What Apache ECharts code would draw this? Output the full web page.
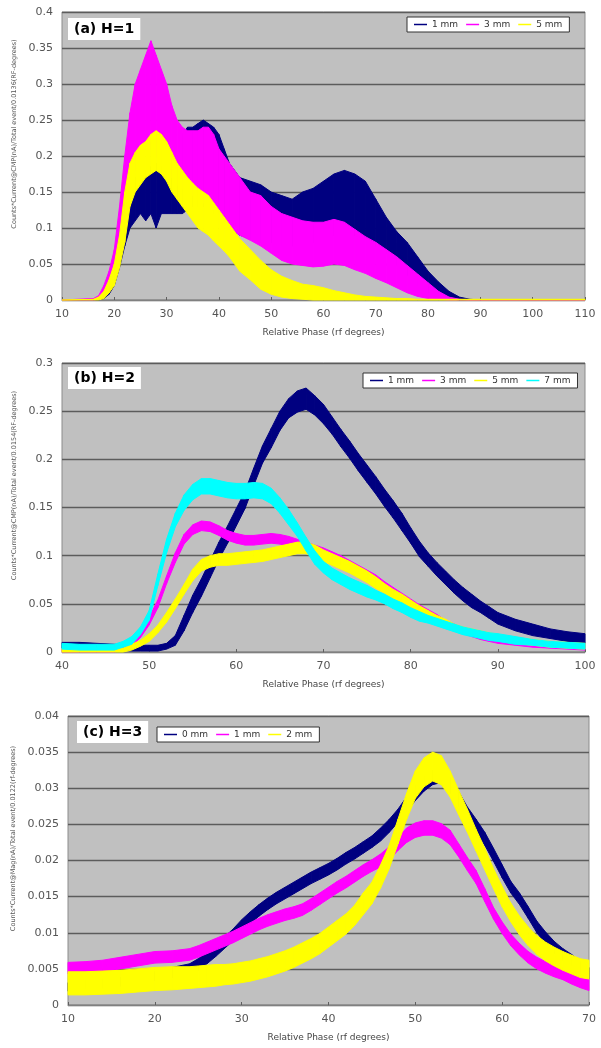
<!DOCTYPE html>
<html><head><meta charset="utf-8">
<script src="https://cdn.jsdelivr.net/npm/echarts@6/dist/echarts.min.js"></script>
<style>html,body{margin:0;padding:0;background:#fff}#c{width:601px;height:1048px}</style>
</head><body><div id="c"></div>
<script>
// ---------- Panel (a) H=1 : band edges (low / high) ----------
const aPhase = [10,16,17,18,19,20,21,22,23,24,25,26,27,28,29,30,31,32,33,34,35,36,37,38,39,40,41,42,44,46,48,50,52,54,56,58,60,62,64,66,68,70,72,74,76,78,80,82,84,86,88,90,110];
const a1Lo = [0,0,0,0.002,0.008,0.02,0.045,0.075,0.1,0.11,0.12,0.11,0.12,0.1,0.12,0.12,0.12,0.12,0.12,0.125,0.13,0.13,0.13,0.125,0.12,0.12,0.11,0.1,0.09,0.085,0.08,0.08,0.075,0.075,0.075,0.08,0.085,0.09,0.09,0.09,0.085,0.075,0.065,0.05,0.035,0.02,0.01,0.005,0.002,0,0,0,0];
const a1Hi = [0,0.001,0.002,0.008,0.02,0.04,0.075,0.11,0.155,0.17,0.175,0.18,0.185,0.19,0.185,0.18,0.175,0.19,0.23,0.24,0.24,0.245,0.25,0.245,0.24,0.23,0.21,0.19,0.17,0.165,0.16,0.15,0.145,0.14,0.15,0.155,0.165,0.175,0.18,0.175,0.165,0.14,0.115,0.095,0.08,0.06,0.04,0.025,0.012,0.004,0.001,0,0];
const a3Lo = [0,0,0.001,0.005,0.015,0.03,0.06,0.1,0.15,0.18,0.2,0.21,0.21,0.2,0.19,0.18,0.17,0.16,0.155,0.15,0.145,0.14,0.135,0.13,0.125,0.12,0.11,0.1,0.09,0.083,0.075,0.065,0.055,0.05,0.048,0.046,0.047,0.05,0.048,0.042,0.037,0.03,0.024,0.017,0.01,0.005,0.002,0.001,0,0,0,0,0];
const a3Hi = [0,0.002,0.006,0.02,0.04,0.07,0.13,0.2,0.26,0.3,0.32,0.34,0.36,0.34,0.32,0.3,0.27,0.25,0.24,0.235,0.235,0.235,0.24,0.24,0.23,0.21,0.2,0.19,0.17,0.15,0.145,0.13,0.12,0.115,0.11,0.108,0.108,0.112,0.108,0.098,0.088,0.08,0.07,0.06,0.048,0.036,0.024,0.012,0.004,0.001,0,0,0];
const a5Lo = [0,0,0,0.002,0.01,0.02,0.045,0.08,0.13,0.15,0.16,0.17,0.175,0.18,0.175,0.165,0.15,0.14,0.13,0.12,0.11,0.1,0.095,0.09,0.082,0.075,0.068,0.06,0.04,0.028,0.015,0.008,0.004,0.002,0.001,0,0,0,0,0,0,0,0,0,0,0,0,0,0,0,0,0,0];
const a5Hi = [0,0.001,0.004,0.012,0.028,0.05,0.09,0.15,0.19,0.205,0.215,0.22,0.23,0.235,0.23,0.22,0.205,0.19,0.18,0.17,0.162,0.155,0.15,0.145,0.135,0.125,0.115,0.105,0.085,0.07,0.055,0.042,0.033,0.027,0.022,0.02,0.017,0.013,0.01,0.007,0.005,0.004,0.003,0.002,0.002,0.001,0.001,0.001,0.001,0.001,0.001,0.001,0.001];

// ---------- Panel (b) H=2 : centre and noise half-width ----------
const bPhase = [40,42,44,46,47,48,49,50,51,52,53,54,55,56,57,58,59,60,61,62,63,64,65,66,67,68,69,70,71,72,73,74,75,76,77,78,79,80,81,82,83,84,85,86,87,88,89,90,92,94,96,98,100];
const b1Mid = [0.007,0.007,0.006,0.005,0.005,0.004,0.004,0.004,0.004,0.006,0.012,0.03,0.05,0.067,0.086,0.105,0.122,0.14,0.158,0.182,0.205,0.222,0.24,0.253,0.26,0.263,0.256,0.247,0.235,0.222,0.21,0.197,0.185,0.173,0.16,0.148,0.135,0.121,0.107,0.096,0.086,0.077,0.068,0.06,0.053,0.047,0.041,0.035,0.028,0.023,0.019,0.016,0.014];
const b1Spread = [0.003,0.003,0.003,0.003,0.003,0.003,0.003,0.003,0.003,0.003,0.005,0.008,0.009,0.009,0.009,0.009,0.009,0.009,0.009,0.009,0.009,0.01,0.01,0.01,0.011,0.011,0.01,0.01,0.009,0.009,0.009,0.009,0.009,0.009,0.009,0.009,0.009,0.008,0.008,0.007,0.007,0.007,0.007,0.007,0.007,0.006,0.006,0.006,0.006,0.006,0.005,0.005,0.005];
const b3Mid = [0.002,0.002,0.002,0.002,0.004,0.009,0.018,0.032,0.05,0.075,0.098,0.117,0.127,0.131,0.13,0.126,0.121,0.118,0.116,0.116,0.117,0.118,0.117,0.115,0.112,0.109,0.106,0.103,0.099,0.095,0.09,0.085,0.08,0.075,0.069,0.063,0.057,0.051,0.045,0.04,0.035,0.03,0.026,0.022,0.019,0.016,0.014,0.012,0.01,0.008,0.007,0.006,0.005];
const b3Spread = [0.002,0.002,0.002,0.002,0.002,0.003,0.003,0.004,0.004,0.004,0.005,0.005,0.005,0.005,0.005,0.005,0.005,0.005,0.005,0.005,0.005,0.005,0.005,0.005,0.005,0.005,0.005,0.005,0.005,0.005,0.005,0.005,0.005,0.005,0.004,0.004,0.004,0.004,0.004,0.004,0.004,0.003,0.003,0.003,0.003,0.003,0.003,0.003,0.003,0.003,0.003,0.003,0.003];
const b5Mid = [0.002,0.002,0.002,0.002,0.002,0.005,0.009,0.015,0.024,0.036,0.05,0.065,0.08,0.09,0.094,0.096,0.096,0.097,0.098,0.099,0.1,0.102,0.104,0.106,0.108,0.108,0.105,0.1,0.096,0.092,0.088,0.083,0.078,0.072,0.066,0.06,0.055,0.049,0.044,0.039,0.034,0.03,0.026,0.023,0.021,0.019,0.017,0.015,0.012,0.01,0.008,0.007,0.006];
const b5Spread = [0.002,0.002,0.002,0.002,0.002,0.003,0.003,0.004,0.004,0.005,0.005,0.005,0.006,0.006,0.006,0.006,0.006,0.006,0.006,0.006,0.006,0.006,0.006,0.006,0.006,0.006,0.006,0.006,0.006,0.006,0.006,0.006,0.006,0.006,0.005,0.005,0.005,0.005,0.004,0.004,0.004,0.004,0.003,0.003,0.003,0.003,0.003,0.003,0.003,0.003,0.003,0.003,0.003];
const b7Mid = [0.006,0.005,0.005,0.005,0.008,0.012,0.022,0.038,0.075,0.11,0.137,0.155,0.166,0.172,0.172,0.17,0.168,0.167,0.167,0.168,0.167,0.162,0.152,0.14,0.127,0.112,0.098,0.088,0.081,0.076,0.071,0.067,0.063,0.059,0.055,0.05,0.046,0.041,0.037,0.034,0.031,0.028,0.025,0.022,0.02,0.018,0.016,0.015,0.012,0.01,0.008,0.007,0.006];
const b7Spread = [0.003,0.003,0.003,0.003,0.003,0.004,0.004,0.005,0.006,0.007,0.007,0.008,0.008,0.008,0.008,0.008,0.008,0.008,0.008,0.008,0.008,0.008,0.008,0.008,0.007,0.007,0.007,0.006,0.006,0.006,0.006,0.006,0.006,0.005,0.005,0.005,0.005,0.005,0.005,0.004,0.004,0.004,0.004,0.004,0.004,0.004,0.004,0.004,0.004,0.003,0.003,0.003,0.003];

// ---------- Panel (c) H=3 : centre and noise half-width ----------
const cPhase = [10,12,14,16,18,20,22,24,25,26,27,28,29,30,31,32,33,34,35,36,37,38,39,40,41,42,43,44,45,46,47,48,49,50,51,52,53,54,55,56,57,58,59,60,61,62,63,64,65,66,67,68,69,70];
const c0Mid = [0.0025,0.0028,0.003,0.0032,0.0035,0.004,0.0045,0.005,0.0056,0.0065,0.0075,0.0086,0.0097,0.011,0.0121,0.0131,0.014,0.0148,0.0155,0.0162,0.0169,0.0176,0.0182,0.0188,0.0195,0.0203,0.021,0.0218,0.0226,0.0236,0.0248,0.0262,0.0278,0.0293,0.0306,0.0315,0.0318,0.0305,0.0285,0.0265,0.0248,0.023,0.0208,0.0185,0.0163,0.0147,0.0128,0.0108,0.0093,0.008,0.007,0.0062,0.0052,0.0044];
const c0Spread = [0.0006,0.0006,0.0006,0.0006,0.0006,0.0006,0.0007,0.0007,0.0008,0.0008,0.0008,0.0008,0.0008,0.0008,0.0008,0.0008,0.0008,0.0008,0.0008,0.0008,0.0008,0.0008,0.0008,0.0008,0.0008,0.0008,0.0008,0.0008,0.0008,0.0009,0.0009,0.0009,0.001,0.001,0.001,0.001,0.001,0.001,0.001,0.0009,0.0009,0.0009,0.0009,0.0009,0.0008,0.0008,0.0008,0.0008,0.0008,0.0008,0.0008,0.0008,0.0008,0.0008];
const c1Mid = [0.0051,0.0052,0.0054,0.0058,0.0062,0.0066,0.0067,0.007,0.0074,0.0079,0.0084,0.0089,0.0094,0.01,0.0106,0.0112,0.0117,0.0121,0.0125,0.0128,0.0132,0.0139,0.0147,0.0155,0.0163,0.017,0.0178,0.0186,0.0193,0.02,0.021,0.0223,0.0235,0.0242,0.0245,0.0245,0.0241,0.0232,0.0214,0.0195,0.0177,0.0152,0.0127,0.0107,0.009,0.0077,0.0066,0.0058,0.0052,0.0047,0.0043,0.0037,0.0032,0.0028];
const c1Spread = [0.0008,0.0008,0.0008,0.0008,0.0008,0.0008,0.0008,0.0008,0.0008,0.0008,0.0008,0.0008,0.0008,0.0008,0.0008,0.0008,0.0008,0.0008,0.0008,0.0008,0.0008,0.0008,0.0008,0.0008,0.0008,0.0008,0.0008,0.0008,0.0008,0.0009,0.0009,0.0009,0.001,0.001,0.001,0.001,0.001,0.001,0.0009,0.0009,0.0009,0.0009,0.0008,0.0008,0.0008,0.0008,0.0008,0.0008,0.0008,0.0008,0.0008,0.0008,0.0008,0.0008];
const c2Mid = [0.003,0.003,0.0031,0.0032,0.0034,0.0036,0.0037,0.0038,0.0039,0.004,0.0041,0.0042,0.0043,0.0045,0.0047,0.005,0.0053,0.0057,0.0061,0.0066,0.0072,0.0078,0.0085,0.0094,0.0103,0.0112,0.0124,0.014,0.0155,0.0178,0.0205,0.024,0.0275,0.0305,0.0322,0.033,0.0325,0.0306,0.028,0.0255,0.0228,0.0202,0.0175,0.015,0.0128,0.011,0.0095,0.0083,0.0074,0.0067,0.0061,0.0056,0.0051,0.0049];
const c2Spread = [0.0016,0.0016,0.0016,0.0016,0.0016,0.0016,0.0016,0.0015,0.0015,0.0015,0.0015,0.0014,0.0014,0.0014,0.0014,0.0014,0.0014,0.0014,0.0014,0.0014,0.0014,0.0014,0.0014,0.0014,0.0014,0.0014,0.0014,0.0015,0.0015,0.0016,0.0016,0.0017,0.0018,0.0019,0.002,0.002,0.002,0.0018,0.0017,0.0016,0.0015,0.0015,0.0014,0.0014,0.0013,0.0013,0.0013,0.0013,0.0013,0.0013,0.0013,0.0013,0.0013,0.0013];

const aTicks = {min:10,max:110,interval:10,ymax:0.4,yint:0.05};
const bTicks = {min:40,max:100,interval:10,ymax:0.3,yint:0.05};
const cTicks = {min:10,max:70,interval:10,ymax:0.04,yint:0.005};

const NAVY='#000080', MAG='#ff00ff', YEL='#ffff00', CYAN='#00ffff';
const FONT='DejaVu Sans';

// A noisy trace drawn as a filled band between its low and high edges (custom series, library coords)
function band(key, color, xs, lo, hi, gi){
  const data = xs.map((x,i)=>[x, lo[i], hi[i]]);
  return {
    name:key, type:'custom', xAxisIndex:gi, yAxisIndex:gi, silent:true, animation:false,
    itemStyle:{color}, encode:{x:0, y:[1,2]}, data,
    renderItem(params, api){
      const i = params.dataIndex;
      if (i >= data.length-1) return null;
      const n = data[i+1];
      const pts = [
        api.coord([api.value(0), api.value(2)]),
        api.coord([n[0], n[2]]),
        api.coord([n[0], n[1]]),
        api.coord([api.value(0), api.value(1)])
      ];
      return {type:'polygon', shape:{points:pts}, style:{fill:color, stroke:color, lineWidth:1}};
    }
  };
}
function spreadBand(key, color, xs, m, s, gi){
  return band(key, color, xs, m.map((v,i)=>Math.max(0, v - s[i])), m.map((v,i)=>v + s[i]), gi);
}

const series = [
  band('a|1 mm', NAVY, aPhase, a1Lo, a1Hi, 0),
  band('a|3 mm', MAG, aPhase, a3Lo, a3Hi, 0),
  band('a|5 mm', YEL, aPhase, a5Lo, a5Hi, 0),
  spreadBand('b|1 mm', NAVY, bPhase, b1Mid, b1Spread, 1),
  spreadBand('b|3 mm', MAG, bPhase, b3Mid, b3Spread, 1),
  spreadBand('b|5 mm', YEL, bPhase, b5Mid, b5Spread, 1),
  spreadBand('b|7 mm', CYAN, bPhase, b7Mid, b7Spread, 1),
  spreadBand('c|0 mm', NAVY, cPhase, c0Mid, c0Spread, 2),
  spreadBand('c|1 mm', MAG, cPhase, c1Mid, c1Spread, 2),
  spreadBand('c|2 mm', YEL, cPhase, c2Mid, c2Spread, 2)
];

const grids = [
  {left:62, right:16, top:12, height:288},
  {left:62, right:16, top:363, height:289},
  {left:68, right:12, top:716, height:289}
].map(g=>Object.assign(g,{show:true, backgroundColor:'#c0c0c0', borderColor:'#8c8c8c', borderWidth:1}));

const yNames = [
  'Counts*Current@CMP(nA)/Total event/0.0136(RF-degrees)',
  'Counts*Current@CMP(nA)/Total event/0.0154(RF-degrees)',
  'Counts*Current@Mag(nA)/Total event/0.0122(rf-degrees)'
];
const ticks = [aTicks,bTicks,cTicks];

const xAxis = ticks.map((t,i)=>({
  type:'value', gridIndex:i, min:t.min, max:t.max, interval:t.interval,
  axisLine:{show:true, onZero:false, lineStyle:{color:'#808080', width:1}},
  axisTick:{show:true, inside:true, length:3, lineStyle:{color:'#606060'}},
  axisLabel:{color:'#555', fontSize:11, fontFamily:FONT, margin:9},
  splitLine:{show:false},
  name:'Relative Phase (rf degrees)', nameLocation:'middle', nameGap:28,
  nameTextStyle:{color:'#444', fontSize:9, fontFamily:FONT}
}));
const yAxis = ticks.map((t,i)=>({
  type:'value', gridIndex:i, min:0, max:t.ymax, interval:t.yint,
  axisLine:{show:false}, axisTick:{show:false},
  axisLabel:{color:'#555', fontSize:11, fontFamily:FONT, margin:9},
  splitLine:{show:true, lineStyle:{color:'#5c5c5c', width:1.3}},
  name:yNames[i], nameLocation:'middle', nameGap:38,
  nameTextStyle:{color:'#555', fontSize:6.5, fontFamily:FONT, padding:[0,0,0,44]}
}));

const titleStyle = {fontSize:14, fontWeight:'bold', color:'#000', fontFamily:FONT};
const title = [
  {text:'(a) H=1', left:68, top:18},
  {text:'(b) H=2', left:68, top:367},
  {text:'(c) H=3', left:77, top:721}
].map(t=>Object.assign(t,{backgroundColor:'#fff', padding:[4,6], textStyle:titleStyle}));

function legend(names, left, top){
  return {data:names, left, top, orient:'horizontal', backgroundColor:'#fff', borderColor:'#333', borderWidth:1,
    padding:[3,7], itemGap:8, itemWidth:13, itemHeight:1.5, icon:'rect', selectedMode:false,
    formatter:n=>n.split('|')[1], textStyle:{fontSize:9, color:'#333', fontFamily:FONT}};
}
const legendList = [
  legend(['a|1 mm','a|3 mm','a|5 mm'], 407, 17),
  legend(['b|1 mm','b|3 mm','b|5 mm','b|7 mm'], 363, 373),
  legend(['c|0 mm','c|1 mm','c|2 mm'], 157, 727)
];

const chart = echarts.init(document.getElementById('c'), null, {renderer:'canvas'});
chart.setOption({
  backgroundColor:'#fff', animation:false,
  title, grid:grids, xAxis, yAxis, legend:legendList, series
});
</script></body></html>
